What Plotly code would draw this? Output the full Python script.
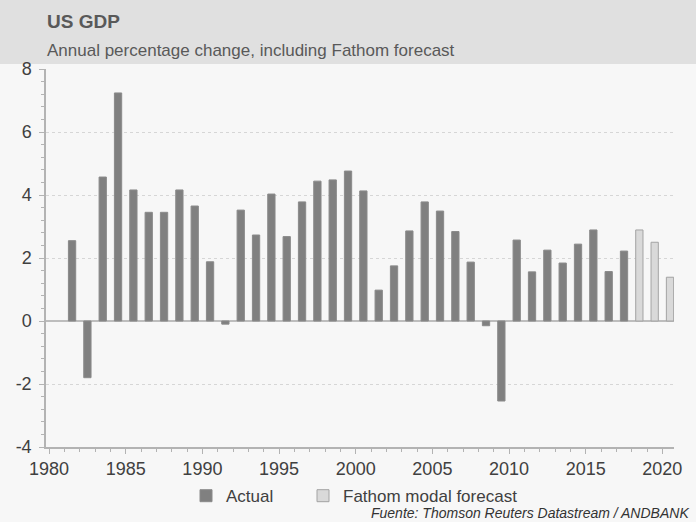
import plotly.graph_objects as go

actual_years = list(range(1981, 2018))
actual_values = [2.55, -1.8, 4.57, 7.24, 4.16, 3.45, 3.45, 4.16, 3.65, 1.88, -0.1,
                 3.52, 2.73, 4.03, 2.68, 3.78, 4.44, 4.48, 4.76, 4.13, 0.98, 1.75,
                 2.86, 3.78, 3.49, 2.84, 1.87, -0.15, -2.54, 2.57, 1.56, 2.25, 1.84,
                 2.44, 2.89, 1.57, 2.22]
forecast_years = [2018, 2019, 2020]
forecast_values = [2.89, 2.5, 1.39]

y_ticks = [-4, -2, 0, 2, 4, 6, 8]
x_ticks = [1980, 1985, 1990, 1995, 2000, 2005, 2010, 2015, 2020]

BAR_W = 0.475
BAR_OFF = 0.5 - BAR_W / 2

fig = go.Figure()
fig.add_trace(go.Bar(
    x=actual_years, y=actual_values, name="Actual", legend="legend",
    width=BAR_W, offset=BAR_OFF,
    marker=dict(color="#808080", line=dict(color="#8a8a8a", width=1)),
))
fig.add_trace(go.Bar(
    x=forecast_years, y=forecast_values, name="Fathom modal forecast", legend="legend2",
    width=BAR_W, offset=BAR_OFF,
    marker=dict(color="#d9d9d9", line=dict(color="#a3a3a3", width=1)),
))

font_family = "Liberation Sans, Arial, sans-serif"
PW = 628.0
PH = 378.0

legend_common = dict(orientation="h", xanchor="left", y=-0.13, yanchor="middle",
                     font=dict(size=17, color="#404040"), bgcolor="rgba(0,0,0,0)",
                     itemwidth=30)

fig.update_layout(
    width=696, height=522,
    margin=dict(l=46, r=22, t=69, b=75, autoexpand=False),
    paper_bgcolor="#f7f7f7", plot_bgcolor="#f7f7f7",
    font=dict(family=font_family, color="#404040"),
    barmode="overlay",
    showlegend=True,
    legend=dict(x=(186 - 46) / PW, **legend_common),
    legend2=dict(x=(303 - 46) / PW, **legend_common),
    xaxis=dict(range=[1979.8, 2020.76], tickvals=x_ticks, ticktext=[str(v) for v in x_ticks],
               showgrid=False, zeroline=False, showline=True, linecolor="#b3b3b3", linewidth=1.5,
               ticks="outside", ticklen=5, tickcolor="#b3b3b3",
               minor=dict(dtick=1, tick0=1980, ticks="outside", ticklen=3, tickcolor="#b3b3b3", showgrid=False),
               tickfont=dict(size=18, color="#404040"), mirror=False, fixedrange=True),
    yaxis=dict(range=[-4, 8], tickvals=y_ticks, ticktext=[str(v) for v in y_ticks],
               showgrid=True, gridcolor="#d6d6d6", griddash="dot", gridwidth=1,
               zeroline=True, zerolinecolor="#bdbdbd", zerolinewidth=2,
               showline=True, linecolor="#b3b3b3", linewidth=1.5,
               ticks="outside", ticklen=5, tickcolor="#b3b3b3",
               minor=dict(dtick=0.4, tick0=0, ticks="outside", ticklen=3, tickcolor="#b3b3b3", showgrid=False),
               tickfont=dict(size=18, color="#404040"), ticklabelstandoff=4, fixedrange=True),
    shapes=[dict(type="rect", xref="paper", yref="paper", x0=-0.1, x1=1.1,
                 y0=1.0 + 5 / PH, y1=1.0 + 80 / PH, fillcolor="#e0e0e0", line=dict(width=0),
                 layer="below")],
    annotations=[
        dict(text="<b>US GDP</b>", xref="paper", yref="paper", x=-1 / PW, y=1 + 48 / PH,
             xanchor="left", yanchor="middle", showarrow=False,
             font=dict(size=19, color="#595959", family=font_family)),
        dict(text="Annual percentage change, including Fathom forecast", xref="paper", yref="paper",
             x=-1 / PW, y=1 + 18 / PH, xanchor="left", yanchor="middle", showarrow=False,
             font=dict(size=17, color="#595959", family=font_family)),
        dict(text="<i>Fuente: Thomson Reuters Datastream / ANDBANK</i>", xref="paper", yref="paper",
             x=1 + 17 / PW, y=-66 / PH, xanchor="right", yanchor="middle", showarrow=False,
             font=dict(size=14, color="#333333", family=font_family)),
    ],
)

fig.write_html("out.html", config={"displayModeBar": False},
               post_script="document.body.style.margin='0px';")
